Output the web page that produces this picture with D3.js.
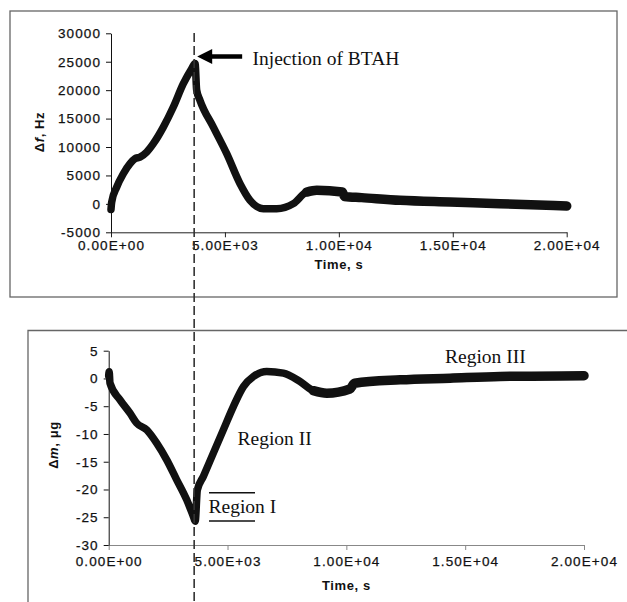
<!DOCTYPE html>
<html>
<head>
<meta charset="utf-8">
<script src="https://cdn.jsdelivr.net/npm/d3@7"></script>
<style>
    body { margin: 0; background: #fff; }
    svg { display: block; }
    .tick text { font-family: "Liberation Sans", Arial, sans-serif; font-size: 13.5px; letter-spacing: 1.1px; fill: #111; stroke: #111; stroke-width: 0.25px; }
    .axis-title { font-family: "Liberation Sans", Arial, sans-serif; font-size: 13px; font-weight: bold; letter-spacing: 0.6px; fill: #111; }
    .note { font-family: "Liberation Serif", "Times New Roman", serif; font-size: 19.5px; fill: #111; }
</style>
</head>
<body>
<div id="chart"></div>
<script>
    // shared x axis (time, s)
    var xTicks = [0, 5000, 10000, 15000, 20000]
    var xTickLabels = ["0.00E+00", "5.00E+03", "1.00E+04", "1.50E+04", "2.00E+04"]
    var injectionTime = 3650

    // top panel: frequency shift
    var timeF = [0, 30, 250, 540, 835, 1054, 1273, 1566, 1857, 2296, 2735, 3174, 3540, 3690, 3760, 3907, 4491, 5079, 5663, 6102, 6686, 7274, 8003, 8591, 9030, 10150, 10250, 11000, 12690, 14880, 17070, 20000]
    var deltaF = [-1000, 300, 2950, 5300, 7070, 7950, 8230, 9110, 10590, 13500, 17030, 21140, 23780, 24700, 20000, 18200, 13500, 8830, 3550, 620, -840, -840, 40, 2080, 2380, 2100, 1300, 1100, 620, 320, 40, -390]
    var fTicks = [-5000, 0, 5000, 10000, 15000, 20000, 25000, 30000]

    // bottom panel: mass change
    var timeM = [0, 20, 55, 476, 897, 1178, 1600, 2020, 2441, 2862, 3283, 3563, 3640, 3730, 3982, 4403, 4823, 5245, 5669, 6090, 6650, 7350, 8052, 8612, 9176, 10150, 10350, 12262, 14366, 16470, 20000]
    var deltaM = [0.5, 1.2, -0.85, -3.85, -6.25, -8.05, -9.26, -11.65, -14.66, -18.26, -21.87, -24.87, -25.7, -20.1, -17.66, -13.45, -9.26, -5.06, -1.46, 0.34, 1.24, 0.95, -0.56, -2.2, -2.65, -1.9, -0.85, -0.25, 0.05, 0.35, 0.5]
    var mTicks = [-30, -25, -20, -15, -10, -5, 0, 5]

    var width = 627
    var height = 602

    var svg = d3.select('#chart')
        .append('svg')
        .attr('width', width)
        .attr('height', height)

    // frames round each panel
    svg.append('rect')
        .attr('x', 10).attr('y', 11).attr('width', 607).attr('height', 286)
        .style('fill', 'none').attr('stroke', '#666').style('stroke-width', 1.3)
    svg.append('path')
        .attr('d', 'M28,' + height + 'V330.5H' + width)
        .style('fill', 'none').attr('stroke', '#666').style('stroke-width', 1.3)

    function drawPanel(opt) {
        var x = d3.scaleLinear().domain([0, 20000]).range(opt.xRange)
        var y = d3.scaleLinear().domain(opt.yDomain).range(opt.yRange)
        var g = svg.append('g')

        g.append('g')
            .attr('transform', 'translate(0,' + opt.yRange[0] + ')')
            .call(d3.axisBottom(x).tickValues(xTicks).tickSizeInner(5).tickSizeOuter(0)
                .tickPadding(opt.xPad)
                .tickFormat(function (d, i) { return xTickLabels[i] }))
            .call(function (a) { a.selectAll('line,path').attr('stroke', opt.axisColor) })

        g.append('g')
            .attr('transform', 'translate(' + opt.xRange[0] + ',0)')
            .call(d3.axisLeft(y).tickValues(opt.yTicks).tickSizeInner(5).tickSizeOuter(0).tickPadding(5)
                .tickFormat(function (d) { return String(d) }))
            .call(function (a) { a.selectAll('line,path').attr('stroke', '#111') })

        var line = d3.line()
            .x(function (d) { return x(d[0]) })
            .y(function (d) { return y(d[1]) })
            .curve(d3.curveMonotoneX)

        var pts = opt.t.map(function (t, i) { return [t, opt.v[i]] })
        g.append('path')
            .attr('d', line(pts))
            .style('fill', 'none')
            .attr('stroke', '#111')
            .style('stroke-width', 7.5)
            .style('stroke-linejoin', 'round')
            .style('stroke-linecap', 'round')
        // the noisier late part of the record looks wider
        g.append('path')
            .attr('d', line(pts.filter(function (d) { return d[0] >= 8300 })))
            .style('fill', 'none')
            .attr('stroke', '#111')
            .style('stroke-width', 9.5)
            .style('stroke-linecap', 'round')

        g.append('text')
            .attr('class', 'axis-title')
            .attr('x', (opt.xRange[0] + opt.xRange[1]) / 2)
            .attr('y', opt.titleY)
            .attr('text-anchor', 'middle')
            .text('Time, s')

        var yl = g.append('text')
            .attr('class', 'axis-title')
            .attr('text-anchor', 'middle')
            .attr('transform', 'translate(' + opt.yLabelX + ',' + opt.yLabelY + ') rotate(-90)')
        yl.append('tspan').text('\u0394')
        yl.append('tspan').style('font-style', 'italic').text(opt.yVar)
        yl.append('tspan').text(opt.yUnit)

        return { x: x, y: y }
    }

    var topPanel = drawPanel({
        xRange: [111, 566.7], yDomain: [-5000, 30000], yRange: [232.3, 33.3],
        yTicks: fTicks, t: timeF, v: deltaF, xPad: 3.5, titleY: 269, axisColor: '#222',
        yLabelX: 44, yLabelY: 132, yVar: 'f', yUnit: ', Hz'
    })

    var bottomPanel = drawPanel({
        xRange: [108.7, 584], yDomain: [-30, 5], yRange: [545, 350.7],
        yTicks: mTicks, t: timeM, v: deltaM, xPad: 6, titleY: 590, axisColor: '#888',
        yLabelX: 58, yLabelY: 445, yVar: 'm', yUnit: ', \u03bcg'
    })

    // injection marker through both panels
    var injX = topPanel.x(injectionTime)
    svg.append('line')
        .attr('x1', injX).attr('x2', injX)
        .attr('y1', 33).attr('y2', height)
        .attr('stroke', '#333')
        .style('stroke-width', 1.6)
        .style('stroke-dasharray', '9,4')

    // arrow pointing at the peak
    var ax = injX + 3
    var ay = 56.5
    svg.append('line')
        .attr('x1', ax + 12).attr('x2', ax + 45)
        .attr('y1', ay).attr('y2', ay)
        .attr('stroke', '#000').style('stroke-width', 4.5)
    svg.append('path')
        .attr('d', 'M' + ax + ',' + ay + 'L' + (ax + 15) + ',' + (ay - 7.5) + 'L' + (ax + 15) + ',' + (ay + 7.5) + 'Z')
        .style('fill', '#000')

    svg.append('text').attr('class', 'note')
        .attr('x', 252.5).attr('y', 64.5)
        .text('Injection of BTAH')

    svg.append('text').attr('class', 'note')
        .attr('x', 237.5).attr('y', 445)
        .text('Region II')

    svg.append('text').attr('class', 'note')
        .attr('x', 445).attr('y', 363)
        .text('Region III')

    svg.append('text').attr('class', 'note')
        .attr('x', 208.5).attr('y', 513)
        .text('Region I')
    svg.append('line')
        .attr('x1', 209).attr('x2', 255).attr('y1', 492.7).attr('y2', 492.7)
        .attr('stroke', '#111').style('stroke-width', 1.5)
    svg.append('line')
        .attr('x1', 209).attr('x2', 255).attr('y1', 521).attr('y2', 521)
        .attr('stroke', '#111').style('stroke-width', 1.5)
</script>
</body>
</html>
